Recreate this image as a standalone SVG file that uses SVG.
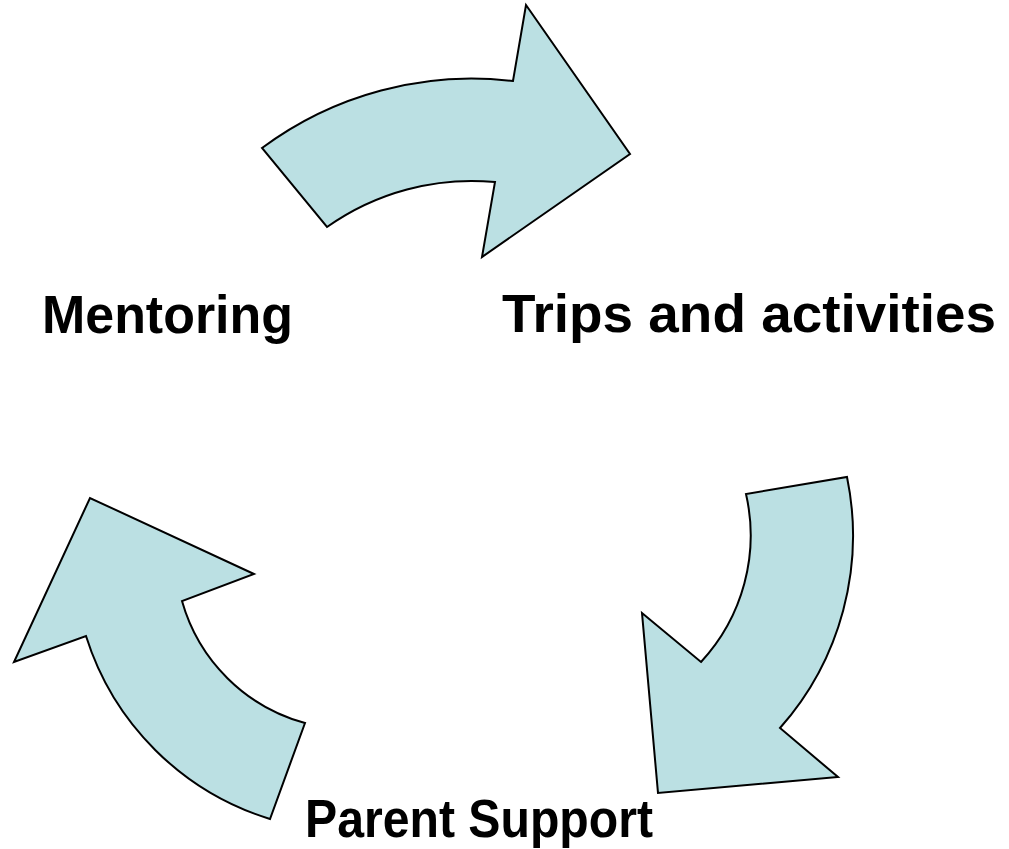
<svg xmlns="http://www.w3.org/2000/svg" width="1009" height="849" viewBox="0 0 1009 849">
<style>
.arrow{fill:#BBE0E3;stroke:#000;stroke-width:2;stroke-linejoin:miter}
.lbl{font-family:"Liberation Sans","DejaVu Sans",sans-serif;font-weight:bold;font-size:54px;fill:#000}
</style>
<rect width="1009" height="849" fill="#fff"/>
<g id="connectors">
<path id="arrow-top" class="arrow" d="M262,148 A351,351 0 0 1 513,81 L526,5 L630,154 L482,257 L495,182 A250,250 0 0 0 327,227 Z"/>
<path id="arrow-right" class="arrow" d="M847,477 A290,290 0 0 1 780,728 L838,777 L658,793 L642,613 L701,662 A186,186 0 0 0 746,494 Z"/>
<path id="arrow-left" class="arrow" d="M270,819 A279,279 0 0 1 86,636 L14,662 L90,498 L254,574 L182,601 A176,176 0 0 0 305,723 Z"/>
</g>
<g id="node-mentoring"><text class="lbl" x="42" y="333" textLength="251" lengthAdjust="spacingAndGlyphs">Mentoring</text></g>
<g id="node-trips"><text class="lbl" x="502" y="332" textLength="494" lengthAdjust="spacingAndGlyphs">Trips and activities</text></g>
<g id="node-parent"><text class="lbl" x="305" y="837" textLength="348" lengthAdjust="spacingAndGlyphs">Parent Support</text></g>
</svg>
